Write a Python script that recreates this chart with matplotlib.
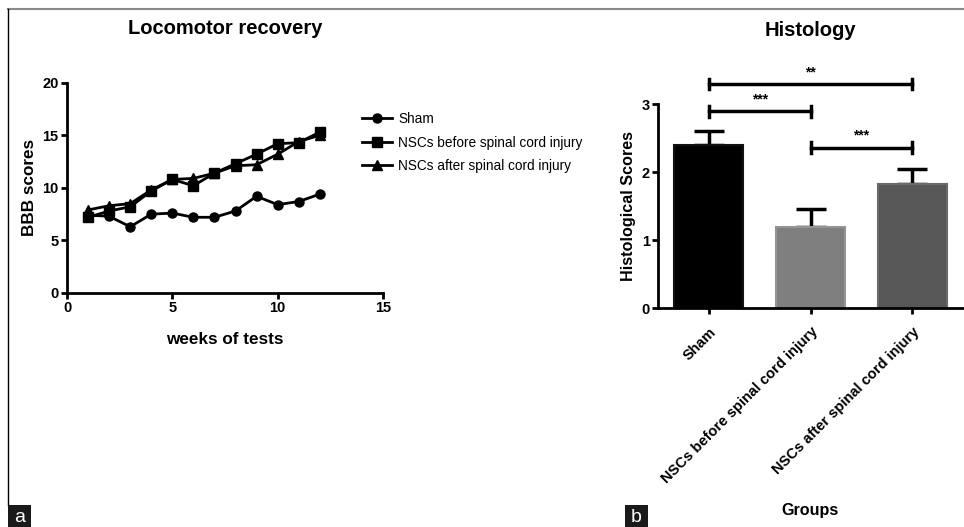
import matplotlib
matplotlib.use("Agg")
import matplotlib.pyplot as plt
from matplotlib.lines import Line2D
from matplotlib.patches import Rectangle

plt.rcParams['font.family'] = ['Liberation Sans', 'DejaVu Sans']

# locomotor recovery (BBB scores per week)
weeks = [1, 2, 3, 4, 5, 6, 7, 8, 9, 10, 11, 12]
sham = [7.4, 7.3, 6.3, 7.5, 7.6, 7.2, 7.2, 7.8, 9.2, 8.4, 8.7, 9.4]
nsc_before = [7.2, 7.8, 8.2, 9.7, 10.8, 10.2, 11.4, 12.3, 13.2, 14.2, 14.3, 15.3]
nsc_after = [7.9, 8.3, 8.5, 9.8, 10.8, 10.9, 11.4, 12.1, 12.2, 13.2, 14.4, 15.0]
series_names = ['Sham', 'NSCs before spinal cord injury', 'NSCs after spinal cord injury']

# histology
groups = ['Sham', 'NSCs before spinal cord injury', 'NSCs after spinal cord injury']
hist_means = [2.40, 1.19, 1.82]
hist_err = [0.21, 0.27, 0.23]
bar_colors = ['#000000', '#7f7f7f', '#575757']
# significance brackets: (from, to, height, label)
brackets = [(0, 2, 3.29, '**'), (0, 1, 2.89, '***'), (1, 2, 2.36, '***')]

W, H = 964, 527
fig = plt.figure(figsize=(W / 100, H / 100), dpi=100)

def box(l, t, r, b):
    return [l / W, 1 - b / H, (r - l) / W, (b - t) / H]

# ---- panel a ----
ax1 = fig.add_axes(box(67, 82.7, 383, 293))
markers = ['o', 's', '^']
for vals, m, name in zip([sham, nsc_before, nsc_after], markers, series_names):
    ax1.plot(weeks, vals, color='black', marker=m, markersize=6.5, lw=2, label=name)
ax1.set_xlim(0, 15)
ax1.set_ylim(0, 20)
ax1.set_xticks([0, 5, 10, 15])
ax1.set_yticks([0, 5, 10, 15, 20])
ax1.set_xlabel('weeks of tests', fontsize=12.3, fontweight='bold', labelpad=12)
ax1.set_ylabel('BBB scores', fontsize=12.3, fontweight='bold', labelpad=4)
ax1.legend(loc='upper left', bbox_to_anchor=(350 / W, 1 - 100 / H),
           bbox_transform=fig.transFigure, frameon=False, fontsize=9.8,
           handlelength=2.2, labelspacing=0.68, handletextpad=0.45)

# ---- panel b ----
ax2 = fig.add_axes(box(658, 104, 963, 308))
x = range(len(groups))
ax2.bar(x, hist_means, width=0.68, color=bar_colors,
        edgecolor=['#111111', '#959595', '#6a6a6a'], linewidth=1.5, zorder=2)
ax2.errorbar(x, hist_means, yerr=[[0, 0, 0], hist_err], fmt='none', ecolor='black',
             elinewidth=2.5, capsize=11, capthick=2.5, zorder=1)
ax2.set_xlim(-0.5, 2.5)
ax2.set_ylim(0, 3)
ax2.set_yticks([0, 1, 2, 3])
ax2.set_xticks(list(x))
ax2.set_xticklabels(groups, rotation=45, ha='right', rotation_mode='anchor',
                    fontsize=11.1, fontweight='bold')
ax2.set_ylabel('Histological Scores', fontsize=11.6, fontweight='bold', labelpad=4)
ax2.set_xlabel('Groups', fontsize=11.6, fontweight='bold', labelpad=12)
for a, b, h, lab in brackets:
    ax2.plot([a, b], [h, h], color='black', lw=2.5, clip_on=False)
    for xx in (a, b):
        ax2.plot([xx, xx], [h - 0.075, h + 0.075], color='black', lw=2.5, clip_on=False)
    ax2.text((a + b) / 2, h + 0.07, lab, ha='center', va='bottom',
             fontsize=10, fontweight='bold')

for ax in (ax1, ax2):
    for s in ('top', 'right'):
        ax.spines[s].set_visible(False)
    for s in ('left', 'bottom'):
        ax.spines[s].set_linewidth(2)
    ax.tick_params(width=2, length=4, pad=2, labelsize=10.5)
    for t in ax.get_yticklabels():
        t.set_fontweight('bold')
for t in ax1.get_xticklabels():
    t.set_fontweight('bold')
ax2.tick_params(axis='x', pad=8)

# titles
fig.text(225 / W, 1 - 28 / H, 'Locomotor recovery', ha='center', va='center',
         fontsize=14.5, fontweight='bold')
fig.text(810 / W, 1 - 30 / H, 'Histology', ha='center', va='center',
         fontsize=14.5, fontweight='bold')

# frame lines
fig.add_artist(Line2D([8 / W, 1], [1 - 9 / H, 1 - 9 / H], color='#888888', lw=1.5))
fig.add_artist(Line2D([8 / W, 8 / W], [1 - 9 / H, 1 - 505 / H], color='black', lw=1))

# panel letters
for l, letter in [(8, 'a'), (625, 'b')]:
    fig.add_artist(Rectangle((l / W, 0), 23 / W, 22 / H, transform=fig.transFigure,
                             facecolor='#1a1a1a', edgecolor='none'))
    fig.text((l + 11.5) / W, 10 / H, letter, color='white', ha='center', va='center',
             fontsize=14)

fig.savefig('out.png', dpi=100)
